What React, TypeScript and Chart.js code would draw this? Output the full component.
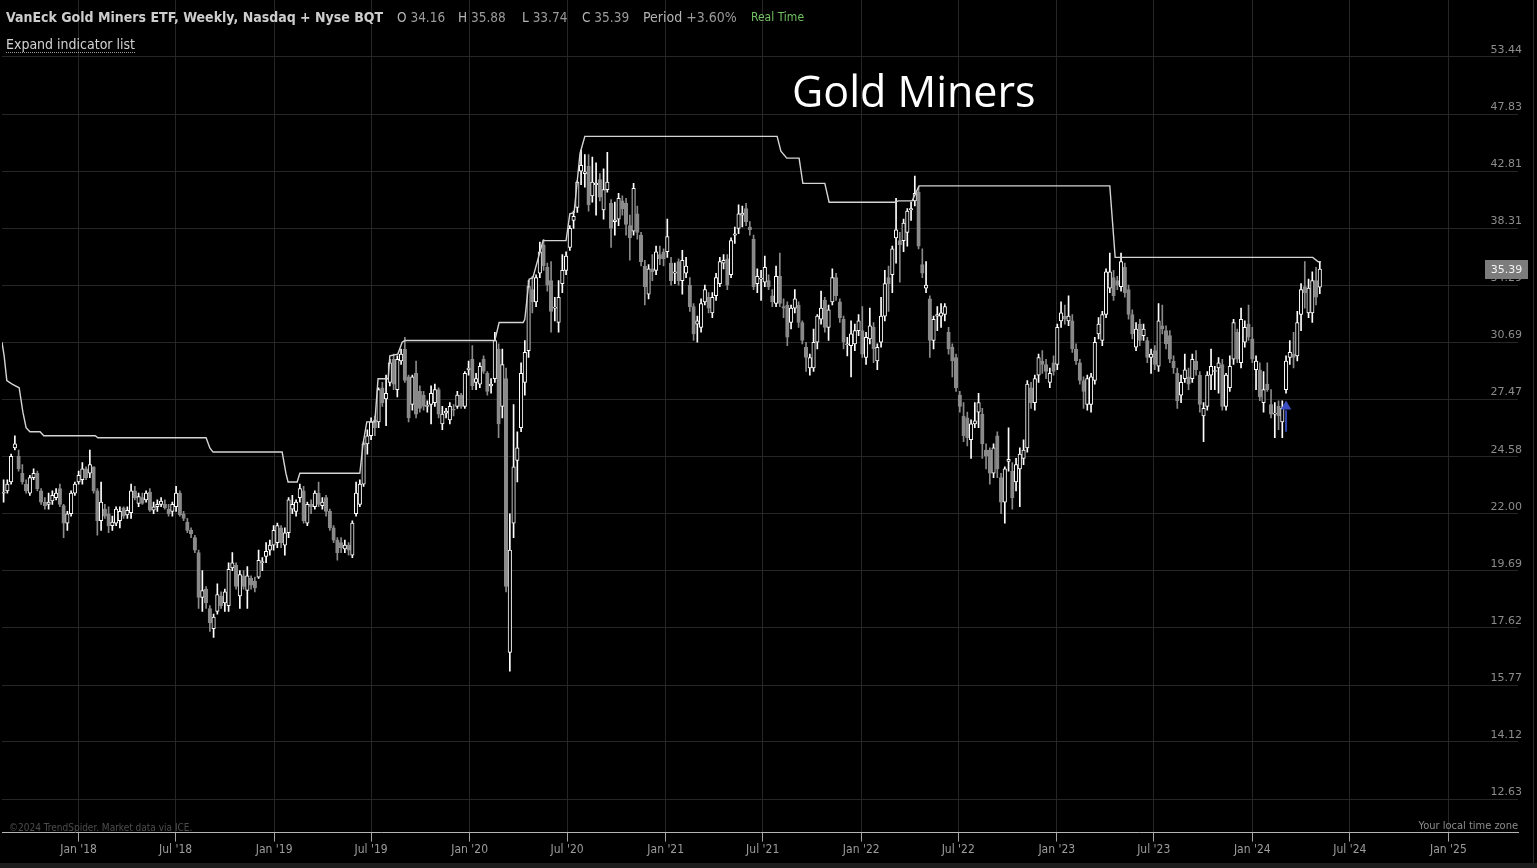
import React, { useEffect, useRef } from "react";
import { Chart, registerables } from "chart.js";

Chart.register(...registerables);

// ---------- DATA ----------
// weekly bars, first bar = week of 14 Aug 2017 (day -140 relative to 1 Jan 2018)
const firstWeekDay = -140;
const weekDays = 7;

const opens = [
  22.9, 23.0, 23.4, 25.0, 24.6, 23.8, 23.3, 22.9, 23.6, 23.8,
  23.0, 22.5, 22.4, 22.55, 22.7, 23.1, 22.35, 21.6, 22.0, 22.9,
  23.4, 23.5, 24.0, 23.8, 24.1, 23.0, 21.7, 22.2, 22.0, 21.5,
  21.6, 21.7, 22.25, 21.95, 22.05, 23.0, 22.45, 22.7, 22.6, 22.95,
  22.15, 22.3, 22.4, 22.4, 22.2, 22.1, 22.3, 22.9, 22.0, 21.65,
  21.3, 21.0, 20.4, 18.7, 19.0, 18.3, 17.6, 18.2, 18.75, 18.5,
  18.4, 19.8, 19.9, 18.75, 19.5, 18.95, 19.4, 19.3, 19.45, 20.0,
  20.25, 20.5, 20.7, 20.8, 21.4, 20.7, 21.2, 22.2, 22.1, 22.7,
  23.0, 21.6, 22.4, 22.3, 22.9, 22.35, 22.7, 22.1, 21.4, 20.9,
  20.8, 20.55, 20.7, 20.3, 22.0, 22.4, 23.3, 25.2, 25.6, 26.4,
  26.3, 28.1, 27.5, 28.4, 29.7, 28.0, 29.6, 30.3, 28.7, 27.2,
  28.9, 27.9, 27.7, 27.1, 27.2, 27.3, 28.0, 26.2, 26.75, 26.4,
  26.95, 27.1, 27.7, 27.1, 29.1, 29.7, 28.4, 28.3, 29.7, 28.9,
  28.2, 28.6, 30.3, 27.1, 28.6, 16.8, 21.6, 24.4, 26.0, 28.4,
  30.2, 34.0, 33.2, 35.1, 37.1, 35.5, 34.6, 32.8, 31.9, 34.4,
  35.3, 36.9, 38.9, 39.9, 42.8, 42.6, 43.2, 40.8, 41.7, 42.1,
  39.7, 41.3, 40.2, 38.8, 39.0, 40.4, 40.2, 38.5, 38.1, 39.4,
  37.8, 35.6, 33.7, 35.4, 35.3, 36.4, 36.6, 36.6, 35.8, 35.1,
  35.9, 34.6, 35.1, 34.3, 32.9, 31.8, 31.6, 33.2, 33.5, 32.5,
  33.6, 34.4, 35.8, 36.1, 35.0, 37.8, 38.3, 39.3, 39.8, 38.4,
  37.5, 34.4, 34.7, 34.5, 34.6, 33.6, 33.1, 34.9, 32.9, 33.0,
  31.9, 32.8, 33.0, 31.9, 30.4, 29.2, 29.2, 30.7, 32.1, 33.3,
  31.6, 33.2, 34.8, 33.2, 32.1, 30.55, 30.5, 30.6, 31.4, 31.4,
  29.8, 30.9, 31.6, 29.6, 30.7, 32.3, 34.8, 35.0, 37.6, 37.4,
  37.4, 38.0, 39.7, 40.4, 41.1, 35.7, 34.1, 33.4, 30.8, 32.3,
  32.3, 32.4, 31.3, 30.4, 29.8, 27.7, 26.6, 26.5, 25.4, 26.2,
  26.8, 26.7, 24.9, 24.9, 23.8, 25.6, 23.6, 22.5, 24.35, 23.9,
  23.4, 24.0, 24.5, 25.0, 28.1, 27.3, 28.8, 29.6, 29.4, 28.4,
  29.5, 29.4, 32.0, 32.3, 32.0, 32.0, 30.3, 29.5, 28.5, 27.2,
  27.2, 28.5, 31.2, 30.8, 32.4, 34.1, 34.8, 34.6, 34.2, 35.5,
  34.0, 32.4, 30.4, 31.8, 31.1, 30.8, 29.8, 30.2, 29.3, 31.7,
  31.4, 31.1, 29.6, 28.9, 27.7, 28.6, 28.7, 28.6, 29.6, 28.8,
  26.6, 27.1, 28.8, 29.0, 29.2, 29.4, 27.1, 28.1, 29.7, 31.3,
  29.5, 30.7, 31.8, 30.9, 29.1, 29.1, 27.3, 28.3, 27.2, 26.7,
  27.1, 26.3, 28.0, 29.8, 30.0, 29.9, 32.4, 34.2, 32.5, 32.5,
  34.6, 34.16,
];

const highs = [
  23.5, 23.5, 24.7, 25.6, 24.9, 24.2, 23.5, 23.7, 24.0, 23.9,
  23.1, 22.7, 22.9, 23.0, 23.1, 23.3, 22.4, 22.1, 23.0, 23.4,
  23.9, 24.3, 24.1, 24.9, 24.1, 23.1, 23.4, 22.4, 22.3, 21.9,
  22.3, 22.3, 22.3, 22.3, 23.3, 23.2, 22.9, 22.9, 23.0, 23.1,
  22.5, 22.6, 22.7, 22.6, 22.4, 22.5, 23.2, 23.0, 22.1, 21.8,
  21.4, 21.1, 20.5, 19.7, 19.1, 18.4, 18.1, 19.2, 18.9, 19.0,
  20.0, 20.4, 20.0, 19.7, 19.7, 19.85, 19.5, 19.45, 20.5, 20.2,
  20.8, 20.9, 21.5, 21.6, 21.5, 21.4, 22.7, 22.8, 22.6, 23.3,
  23.2, 22.5, 22.6, 23.0, 23.4, 22.7, 22.8, 22.2, 21.5, 21.0,
  21.0, 20.9, 20.8, 21.7, 23.4, 23.5, 25.3, 25.9, 26.5, 26.6,
  28.1, 28.4, 28.8, 29.7, 30.0, 29.9, 30.3, 31.0, 28.8, 28.8,
  29.6, 28.2, 27.9, 27.4, 28.2, 28.3, 28.1, 27.1, 27.0, 27.3,
  27.2, 27.9, 27.8, 29.0, 29.6, 30.5, 28.9, 29.5, 29.9, 29.0,
  28.6, 31.3, 30.6, 30.3, 29.2, 22.0, 27.2, 25.8, 29.5, 30.8,
  34.6, 34.9, 35.0, 37.3, 37.5, 35.8, 35.9, 33.5, 34.6, 36.4,
  36.6, 38.5, 39.6, 42.0, 44.6, 44.2, 44.2, 44.0, 43.5, 42.6,
  43.0, 44.4, 40.5, 40.3, 41.0, 40.8, 40.6, 39.3, 41.8, 40.0,
  38.0, 36.0, 35.7, 36.4, 37.0, 37.0, 36.8, 39.0, 36.2, 35.8,
  36.1, 36.7, 36.2, 34.8, 33.1, 32.3, 33.4, 34.3, 33.8, 33.8,
  35.1, 36.2, 36.4, 36.4, 37.6, 38.4, 40.1, 40.0, 40.2, 38.8,
  37.8, 35.4, 35.3, 36.3, 35.0, 34.0, 35.6, 36.5, 33.4, 33.2,
  33.0, 34.0, 33.2, 32.0, 30.7, 30.0, 31.5, 32.4, 33.9, 33.5,
  33.0, 35.4, 35.1, 33.4, 32.3, 31.0, 32.0, 31.8, 32.4, 32.9,
  31.3, 32.8, 31.9, 30.6, 33.5, 35.3, 35.6, 37.0, 40.6, 38.0,
  39.0, 39.8, 40.3, 42.4, 41.5, 36.8, 35.9, 33.6, 32.3, 32.9,
  33.1, 33.1, 31.6, 30.6, 30.0, 27.9, 27.3, 26.8, 26.4, 27.3,
  27.8, 27.0, 25.2, 25.0, 25.2, 25.8, 23.8, 24.1, 26.0, 24.3,
  24.5, 25.0, 25.4, 28.5, 28.4, 28.8, 30.0, 30.2, 29.7, 29.2,
  29.9, 31.8, 33.2, 33.0, 33.6, 32.4, 30.6, 29.7, 28.7, 28.8,
  28.9, 31.0, 32.2, 32.6, 35.4, 36.5, 35.3, 34.9, 36.5, 35.8,
  34.3, 32.7, 31.9, 32.1, 31.8, 31.0, 30.3, 30.5, 33.1, 33.0,
  31.7, 31.4, 29.9, 29.2, 28.8, 30.0, 29.2, 30.0, 30.2, 29.0,
  27.3, 29.0, 30.3, 29.3, 29.8, 29.7, 28.9, 29.9, 32.1, 31.5,
  32.8, 32.0, 33.0, 31.6, 29.9, 29.5, 29.0, 29.5, 28.0, 27.3,
  27.4, 27.4, 29.9, 30.8, 31.3, 32.6, 34.4, 35.9, 34.7, 35.2,
  35.5, 35.88,
];

const lows = [
  22.5, 22.9, 23.3, 24.9, 23.9, 23.3, 22.9, 22.8, 23.5, 23.0,
  22.4, 22.2, 22.2, 22.4, 22.6, 22.3, 21.0, 21.3, 21.9, 22.8,
  23.3, 23.3, 23.5, 23.6, 22.9, 21.1, 21.3, 21.8, 21.2, 21.3,
  21.5, 21.4, 21.8, 21.8, 21.8, 22.6, 22.3, 22.4, 22.5, 22.1,
  22.0, 22.1, 22.3, 22.2, 21.9, 21.9, 22.1, 21.9, 21.7, 21.2,
  21.0, 20.4, 18.3, 18.2, 18.3, 17.5, 17.3, 18.1, 18.3, 18.2,
  18.2, 19.7, 19.0, 18.3, 19.0, 18.3, 19.0, 18.9, 19.4, 19.7,
  20.0, 20.3, 20.5, 20.6, 20.6, 20.3, 21.0, 22.0, 21.9, 22.5,
  21.6, 21.5, 22.0, 22.2, 22.3, 22.2, 21.9, 21.3, 20.8, 20.1,
  20.4, 20.4, 20.3, 20.2, 21.9, 22.3, 23.2, 24.7, 25.4, 25.6,
  26.0, 27.1, 26.1, 28.2, 28.0, 27.6, 29.4, 28.4, 26.3, 26.9,
  26.5, 26.8, 26.9, 26.8, 26.2, 27.1, 26.5, 25.9, 26.5, 26.2,
  26.6, 27.0, 27.0, 27.0, 28.8, 28.0, 28.0, 28.1, 28.9, 27.7,
  27.8, 28.4, 25.5, 26.5, 18.9, 16.2, 21.0, 23.4, 25.8, 27.7,
  29.8, 32.5, 32.9, 34.8, 35.3, 33.9, 31.3, 32.0, 31.3, 33.8,
  35.0, 36.7, 38.3, 39.5, 41.7, 41.5, 39.6, 40.3, 39.3, 40.4,
  39.0, 41.1, 36.9, 37.8, 38.5, 39.3, 37.8, 36.0, 37.8, 37.5,
  35.6, 33.0, 33.4, 34.6, 35.0, 35.7, 35.6, 36.2, 34.3, 34.4,
  34.3, 33.7, 34.8, 32.6, 30.8, 30.7, 31.3, 33.0, 32.5, 32.2,
  33.3, 34.2, 35.4, 34.0, 34.8, 37.2, 37.9, 38.4, 38.5, 37.8,
  34.0, 33.8, 33.3, 34.2, 34.0, 32.9, 32.9, 32.9, 32.2, 30.5,
  31.5, 32.5, 31.6, 30.6, 29.0, 28.8, 29.0, 30.3, 31.8, 31.3,
  30.8, 33.0, 33.3, 31.9, 30.3, 29.9, 28.7, 30.2, 31.1, 29.8,
  29.4, 30.6, 29.5, 29.1, 30.4, 32.0, 32.6, 33.8, 35.8, 34.5,
  36.6, 37.0, 38.9, 40.0, 36.8, 34.8, 33.8, 29.8, 30.3, 31.4,
  31.6, 32.0, 30.0, 28.7, 27.9, 26.8, 25.3, 25.1, 24.5, 26.0,
  26.0, 24.5, 24.0, 23.3, 23.6, 23.6, 22.0, 21.6, 23.9, 22.2,
  23.0, 22.3, 24.2, 24.8, 27.0, 26.9, 28.4, 28.9, 28.6, 28.1,
  28.8, 29.1, 31.6, 31.8, 31.7, 30.1, 29.4, 28.3, 27.0, 26.9,
  26.8, 28.3, 30.9, 30.5, 32.2, 33.8, 33.3, 34.0, 33.9, 33.5,
  32.1, 30.9, 30.2, 30.5, 30.8, 29.5, 28.9, 29.1, 29.0, 31.2,
  30.3, 29.5, 28.9, 27.0, 27.3, 28.4, 28.0, 28.4, 28.8, 26.8,
  25.3, 26.9, 28.0, 28.0, 27.8, 26.9, 26.9, 27.9, 29.4, 29.5,
  29.2, 30.4, 30.8, 29.5, 28.0, 27.4, 26.8, 27.9, 26.5, 25.5,
  25.9, 25.5, 27.8, 29.4, 29.2, 29.6, 31.4, 32.8, 32.2, 31.9,
  33.0, 33.74,
];

const closes = [
  22.95, 23.3, 24.6, 25.2, 24.0, 23.4, 23.0, 23.6, 23.8, 23.1,
  22.5, 22.35, 22.5, 22.8, 22.9, 22.4, 21.6, 22.0, 22.9, 23.3,
  23.7, 24.0, 23.6, 24.2, 23.0, 21.7, 22.5, 21.9, 21.5, 21.65,
  22.2, 22.1, 21.9, 22.15, 23.0, 22.7, 22.75, 22.45, 22.9, 22.15,
  22.3, 22.4, 22.55, 22.25, 22.0, 22.4, 22.9, 21.95, 21.8, 21.3,
  21.15, 20.5, 18.7, 18.95, 18.5, 17.8, 18.0, 18.8, 18.4, 18.9,
  19.75, 20.0, 19.1, 19.55, 19.1, 19.5, 19.15, 19.05, 20.1, 20.05,
  20.45, 20.7, 21.3, 21.5, 20.8, 21.2, 22.6, 22.4, 22.5, 23.1,
  21.7, 22.4, 22.3, 22.9, 22.4, 22.5, 22.1, 21.4, 20.9, 20.4,
  20.6, 20.7, 20.5, 21.6, 22.9, 23.3, 25.2, 25.6, 26.3, 26.0,
  28.0, 27.3, 27.8, 29.5, 28.3, 29.7, 30.0, 28.5, 26.5, 28.7,
  26.7, 27.0, 27.1, 27.15, 27.8, 28.0, 26.7, 26.7, 26.85, 27.1,
  26.9, 27.7, 27.1, 28.9, 29.2, 28.2, 28.6, 29.3, 29.0, 27.9,
  28.3, 30.8, 26.2, 29.4, 19.1, 20.5, 24.1, 25.0, 28.9, 30.1,
  34.2, 33.2, 34.8, 36.6, 35.6, 34.3, 32.6, 32.85, 33.5, 35.3,
  36.3, 38.3, 39.2, 41.9, 43.3, 42.75, 40.1, 41.9, 41.8, 40.7,
  41.3, 41.9, 38.3, 38.95, 40.6, 39.8, 38.6, 37.6, 41.4, 38.0,
  35.9, 34.2, 35.4, 35.2, 36.6, 36.1, 36.1, 37.7, 34.6, 35.2,
  34.6, 36.0, 35.6, 32.9, 31.2, 32.0, 33.1, 34.0, 32.8, 33.5,
  34.8, 35.9, 36.0, 34.3, 37.4, 37.9, 39.4, 39.45, 38.8, 38.2,
  34.2, 34.9, 34.75, 35.5, 34.2, 33.2, 34.9, 33.1, 32.8, 31.0,
  32.8, 33.4, 31.9, 30.8, 29.8, 29.8, 30.7, 32.3, 32.8, 31.6,
  32.7, 34.8, 33.6, 32.2, 30.7, 30.6, 31.2, 31.4, 32.0, 30.0,
  31.0, 31.7, 30.3, 30.4, 32.3, 34.4, 34.4, 36.8, 38.2, 37.1,
  38.7, 39.6, 39.8, 41.0, 37.0, 35.1, 34.3, 30.8, 32.1, 32.4,
  32.5, 32.9, 30.3, 29.6, 28.1, 27.1, 25.6, 25.5, 26.2, 26.35,
  27.3, 25.2, 24.6, 23.8, 25.0, 24.0, 22.5, 24.0, 24.45, 22.7,
  24.2, 24.7, 24.9, 28.3, 27.3, 28.6, 29.8, 29.4, 29.0, 28.9,
  29.0, 31.6, 32.5, 32.1, 32.3, 30.3, 29.6, 28.5, 27.9, 28.6,
  28.7, 30.7, 31.8, 32.4, 35.2, 35.2, 33.6, 34.3, 35.9, 33.8,
  32.4, 31.2, 31.5, 30.8, 31.5, 29.8, 30.0, 29.4, 32.0, 31.5,
  30.6, 29.7, 29.2, 27.4, 28.4, 29.1, 28.3, 29.7, 29.1, 27.2,
  27.0, 28.8, 29.3, 29.05, 29.5, 27.1, 28.8, 29.3, 31.9, 29.7,
  32.1, 31.6, 31.0, 29.7, 29.6, 27.6, 28.0, 28.0, 26.7, 26.75,
  26.6, 27.0, 29.6, 30.1, 29.8, 31.9, 34.0, 33.8, 34.1, 34.6,
  33.5, 35.39,
];

// resistance (trailing high) line: day offsets from 1 Jan 2018 and levels
const resDays = [
  -143, -139, -134, -124, -111, -104, -98, -91, -72, -65,
  31, 36, 238, 245, 251, 380, 387, 391, 408, 413,
  525, 531, 538, 553, 559, 578, 581, 596, 604, 609,
  777, 785, 830, 833, 841, 848, 867, 910, 917, 925,
  936, 945, 1304, 1311, 1322, 1345, 1352, 1393, 1401, 1524,
  1530, 1556, 1569, 1925, 1935, 2304, 2314, 2319,
];
const resValues = [
  30.7, 29.9, 28.5, 28.3, 28.1, 26.8, 26.0, 25.8, 25.8, 25.6,
  25.6, 25.5, 25.5, 25.0, 24.8, 24.8, 23.8, 23.4, 23.4, 23.8,
  23.8, 25.2, 26.3, 26.3, 28.6, 28.6, 29.9, 30.0, 30.7, 30.8,
  30.8, 31.9, 31.9, 32.1, 34.7, 34.8, 37.4, 37.4, 39.4, 39.5,
  44.3, 45.8, 45.8, 44.5, 43.9, 43.9, 41.8, 41.8, 40.3, 40.3,
  40.4, 40.4, 41.6, 41.6, 36.2, 36.2, 35.9, 35.9,
];

// buy-signal arrow (week of 4 Mar 2024)
const arrowDay = 2254;
const arrowStick = [25.8, 26.9];
const arrowHead = 27.1;

const xTickDays = [0, 181, 365, 546, 730, 912, 1096, 1277, 1461, 1642, 1826, 2007, 2191, 2373, 2557];
const xTickLabels = [
  "Jan '18", "Jul '18", "Jan '19", "Jul '19", "Jan '20", "Jul '20", "Jan '21", "Jul '21",
  "Jan '22", "Jul '22", "Jan '23", "Jul '23", "Jan '24", "Jul '24", "Jan '25",
];
const yTicks = [12.63, 14.12, 15.77, 17.62, 19.69, 22.0, 24.58, 27.47, 30.69, 34.29, 38.31, 42.81, 47.83, 53.44];

const chartTitle = "Gold Miners";
const symbolTitle = "VanEck Gold Miners ETF, Weekly, Nasdaq + Nyse BQT";

// ---------- STYLE ----------
const COND = "'DejaVu Sans Condensed', 'Liberation Sans Narrow', 'DejaVu Sans', sans-serif";
const UP = "#ffffff";
const DOWN = "#8a8a8a";
const GRID = "#262626";

export default function App() {
  const ref = useRef<HTMLCanvasElement | null>(null);

  useEffect(() => {
    const canvas = ref.current;
    if (!canvas) return;
    const n = closes.length;
    const days = closes.map((_, i) => firstWeekDay + weekDays * i);
    const up = closes.map((c, i) => c >= opens[i]);
    const bodies = closes.map((c, i) => ({ x: days[i], y: [opens[i], c] }));
    const wicks = closes.map((_, i) => ({ x: days[i], y: [lows[i], highs[i]] }));

    const priceTag = {
      id: "priceTag",
      afterDraw(chart: any) {
        const { ctx, chartArea, scales } = chart;
        const last = closes[n - 1];
        const y = Math.round(scales.y.getPixelForValue(last));
        const x0 = chartArea.right - 33;
        ctx.save();
        ctx.fillStyle = "#7c7c7c";
        ctx.fillRect(x0, y - 9, 43, 19);
        ctx.fillStyle = "#f4f4f4";
        ctx.font = "11px 'DejaVu Sans'";
        ctx.textAlign = "center";
        ctx.textBaseline = "middle";
        ctx.fillText(last.toFixed(2), x0 + 21.5, y + 1);
        ctx.restore();
      },
    };

    const chart = new Chart(canvas, {
      type: "bar",
      data: {
        datasets: [
          {
            type: "line",
            data: resDays.map((d, k) => ({ x: d, y: resValues[k] })),
            borderColor: "#d4d4d4",
            borderWidth: 1.4,
            pointRadius: 0,
            tension: 0,
            order: 0,
          } as any,
          {
            type: "line",
            data: arrowStick.map((v) => ({ x: arrowDay, y: v })),
            borderColor: "#3345b0",
            borderWidth: 2,
            pointRadius: 0,
            order: 0,
          } as any,
          {
            type: "line",
            data: [{ x: arrowDay, y: arrowHead }],
            showLine: false,
            pointStyle: "triangle",
            pointRadius: 6,
            pointBackgroundColor: "#3b4dc4",
            pointBorderColor: "#3b4dc4",
            pointBorderWidth: 0,
            order: 0,
          } as any,
          {
            type: "bar",
            data: bodies,
            backgroundColor: up.map((u) => (u ? "#000000" : DOWN)),
            borderColor: up.map((u) => (u ? UP : DOWN)),
            borderWidth: 1,
            borderSkipped: false,
            barThickness: 3.5,
            minBarLength: 1,
            grouped: false,
            order: 1,
          } as any,
          {
            type: "bar",
            data: wicks,
            backgroundColor: up.map((u) => (u ? UP : DOWN)),
            borderWidth: 0,
            barThickness: 1,
            grouped: false,
            order: 2,
          } as any,
        ],
      },
      options: {
        responsive: false,
        maintainAspectRatio: false,
        animation: false,
        devicePixelRatio: 1,
        layout: { autoPadding: false, padding: { left: 2, right: 15, top: 0, bottom: 5 } },
        plugins: {
          legend: { display: false },
          tooltip: { enabled: false },
          title: { display: false },
        },
        scales: {
          x: {
            type: "linear",
            min: -143,
            max: 2687,
            offset: false,
            grid: {
              color: GRID,
              lineWidth: 1,
              offset: false,
              drawTicks: true,
              tickLength: 9,
              tickColor: "#a5a5a5",
              tickWidth: 1,
            },
            border: { display: true, color: "#b4b4b4", width: 1 },
            ticks: {
              color: "#9c9c9c",
              font: { family: COND, size: 12 },
              padding: 1,
              autoSkip: false,
              maxRotation: 0,
              callback: (_v: any, i: number) => xTickLabels[i] ?? "",
            },
            afterBuildTicks: (s: any) => {
              s.ticks = xTickDays.map((v) => ({ value: v }));
            },
            afterFit: (s: any) => {
              s.paddingLeft = 0;
              s.paddingRight = 0;
            },
          },
          y: {
            type: "logarithmic",
            position: "right",
            min: 11.84,
            max: 59.69,
            grid: { color: GRID, lineWidth: 1, drawTicks: false, tickLength: 0 },
            border: { display: false },
            ticks: {
              mirror: true,
              padding: 4,
              labelOffset: -7,
              color: "#8c8c8c",
              font: { family: "'DejaVu Sans', sans-serif", size: 11 },
              autoSkip: false,
              callback: (v: any) => Number(v).toFixed(2),
            },
            afterBuildTicks: (s: any) => {
              s.ticks = yTicks.map((v) => ({ value: v }));
            },
            afterFit: (s: any) => {
              s.width = 0;
              s.paddingTop = 0;
              s.paddingBottom = 0;
            },
          },
        },
      } as any,
      plugins: [priceTag],
    });
    return () => chart.destroy();
  }, []);

  const last = closes.length - 1;
  const period = ((closes[last] / opens[last] - 1) * 100).toFixed(2);
  const hdr: React.CSSProperties = {
    position: "absolute",
    top: 8,
    fontFamily: COND,
    fontSize: 14,
    lineHeight: "18px",
    color: "#9a9a9a",
    whiteSpace: "nowrap",
  };
  const lbl: React.CSSProperties = { color: "#b4b4b4" };

  return (
    <div style={{ position: "fixed", left: 0, top: 0, width: 1537, height: 868, background: "#000", overflow: "hidden" }}>
      <canvas ref={ref} width={1533} height={863} style={{ position: "absolute", left: 0, top: 0, width: 1533, height: 863 }} />
      <div style={{ position: "absolute", left: 1533, top: 0, width: 1, height: 863, background: "#2c2c2c" }} />
      <div style={{ position: "absolute", left: 0, top: 863, width: 1537, height: 5, background: "#1d1d1d" }} />

      <div style={{ ...hdr, left: 6, color: "#cdcdcd", fontWeight: "bold" }}>{symbolTitle}</div>
      <div style={{ ...hdr, left: 397, fontSize: 13.5 }}><span style={lbl}>O</span> {opens[last].toFixed(2)}</div>
      <div style={{ ...hdr, left: 458, fontSize: 13.5 }}><span style={lbl}>H</span> {highs[last].toFixed(2)}</div>
      <div style={{ ...hdr, left: 522, fontSize: 13.5 }}><span style={lbl}>L</span> {lows[last].toFixed(2)}</div>
      <div style={{ ...hdr, left: 582, fontSize: 13.5 }}><span style={lbl}>C</span> {closes[last].toFixed(2)}</div>
      <div style={{ ...hdr, left: 643 }}><span style={lbl}>Period</span> +{period}%</div>
      <div style={{ ...hdr, left: 751, fontSize: 12, color: "#72c062" }}>Real Time</div>

      <div
        style={{
          position: "absolute",
          left: 6,
          top: 36,
          fontFamily: COND,
          fontSize: 14,
          lineHeight: "16px",
          color: "#d2d2d2",
          borderBottom: "1px dotted #9a9a9a",
          whiteSpace: "nowrap",
        }}
      >
        Expand indicator list
      </div>

      <div
        style={{
          position: "absolute",
          left: 792,
          top: 64,
          fontFamily: "'Open Sans', 'DejaVu Sans', sans-serif",
          fontSize: 43,
          lineHeight: "54px",
          color: "#ffffff",
          whiteSpace: "nowrap",
        }}
      >
        {chartTitle}
      </div>

      <div
        style={{
          position: "absolute",
          left: 9,
          top: 822,
          fontFamily: COND,
          fontSize: 10,
          lineHeight: "12px",
          color: "#4d4d4d",
          whiteSpace: "nowrap",
        }}
      >
        ©2024 TrendSpider. Market data via ICE.
      </div>
      <div
        style={{
          position: "absolute",
          right: 1537 - 1518,
          top: 819,
          fontFamily: COND,
          fontSize: 11,
          lineHeight: "13px",
          color: "#8c8c8c",
          whiteSpace: "nowrap",
        }}
      >
        Your local time zone
      </div>
    </div>
  );
}
